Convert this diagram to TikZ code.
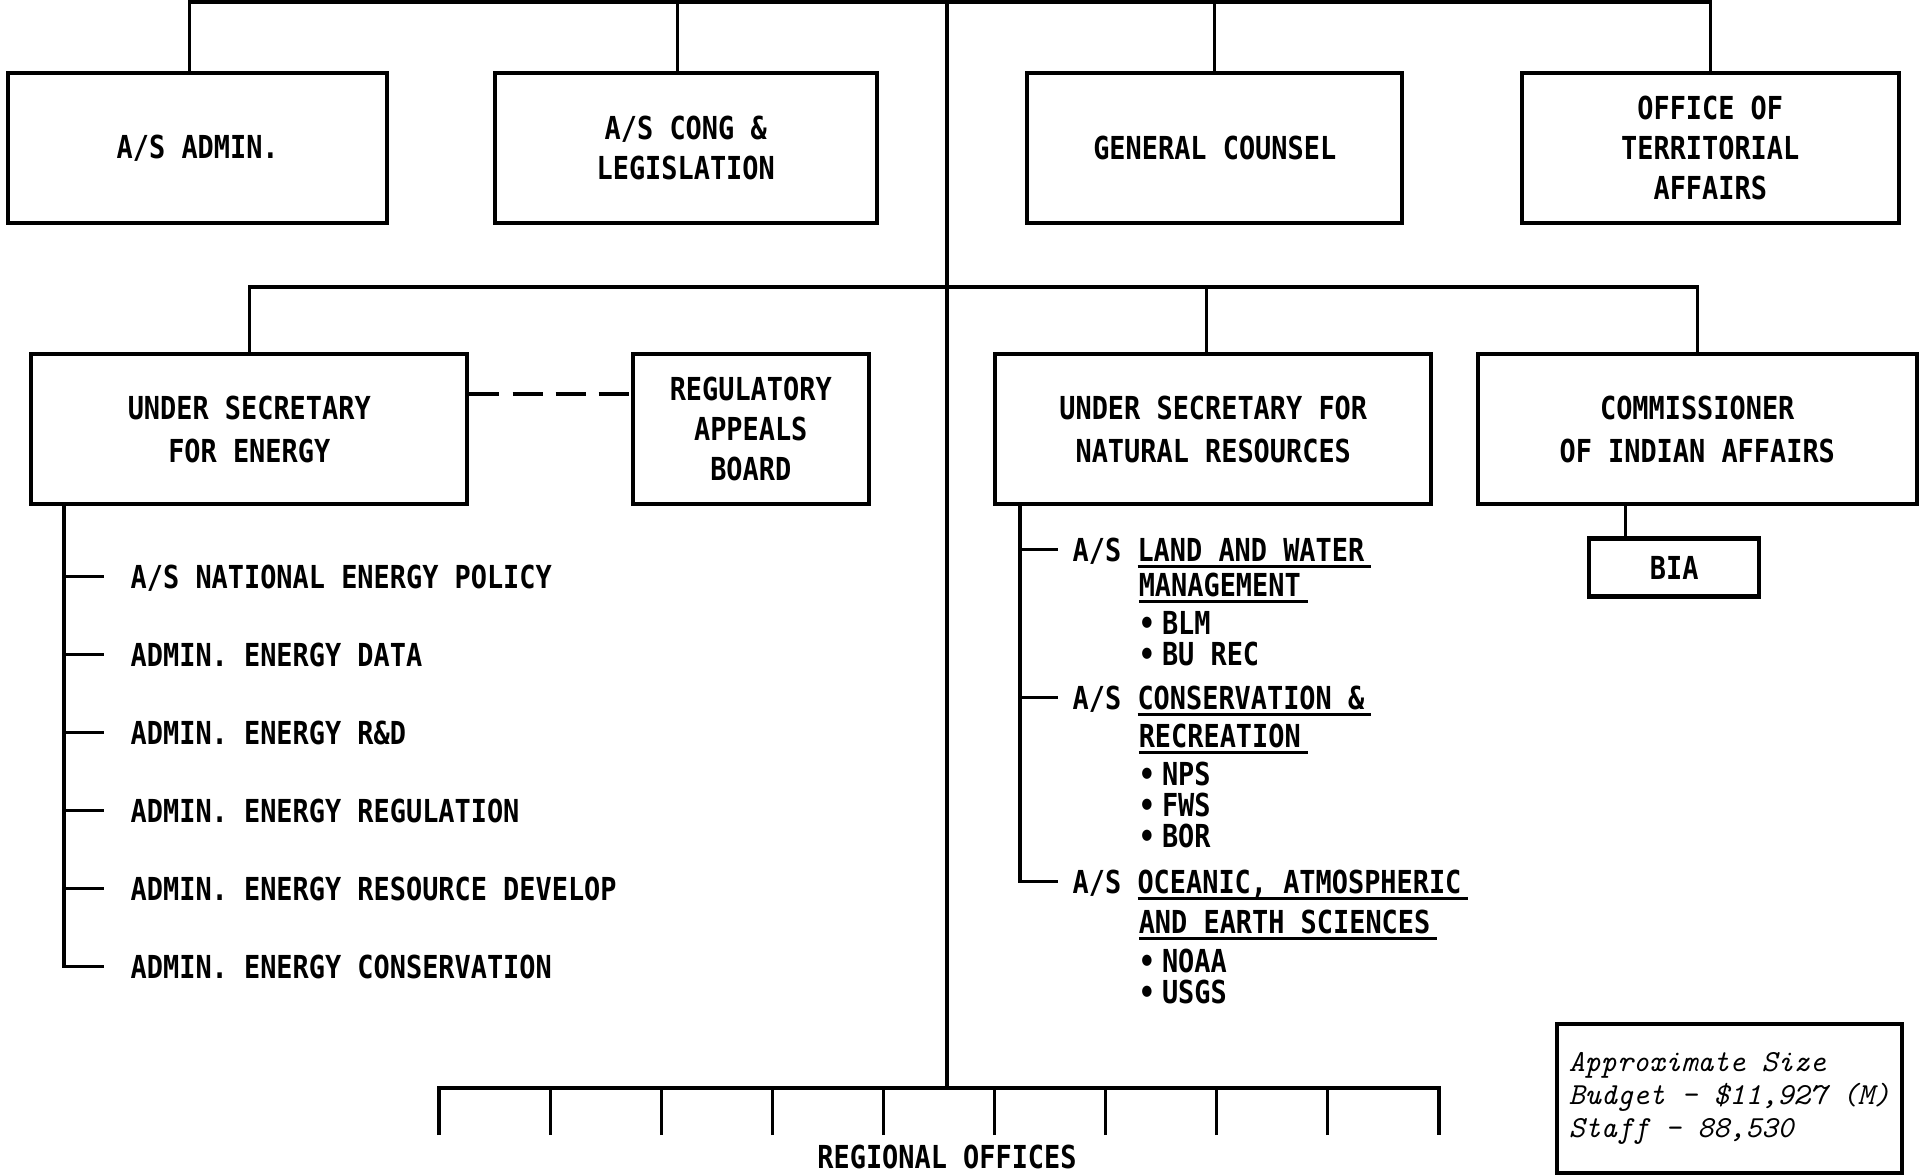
\documentclass[tikz,border=0pt]{standalone}
\usepackage{fontspec}
\newfontfamily\typefont{DejaVu Sans Mono Bold}[FakeStretch=0.85]
\usetikzlibrary{
  positioning,
  calc
}
\newsavebox{\undlbox}
\newcommand{\undl}[1]{\sbox{\undlbox}{#1}\rlap{\rule[-1.8pt]{\dimexpr\wd\undlbox+2pt\relax}{0.8pt}}\usebox{\undlbox}}

\begin{document}
\begin{tikzpicture}[
    x=0.01cm, y=-0.01cm,
    font=\typefont\fontsize{9}{11.3}\selectfont,
    office/.style={
      draw=black,
      line width=1.2pt,
      align=center,
      minimum height=1.5cm
    },
    link/.style={
      draw=black,
      line width=0.9pt
    },
    unit/.style={
      anchor=west,
      inner xsep=0.26cm,
      inner ysep=0pt,
      text height=7pt,
      text depth=0pt
    },
    subunit/.style={
      unit,
      inner xsep=0.14cm
    },
    sizebox/.style={
      draw=black,
      line width=1.2pt,
      align=left,
      font=\ttfamily\itshape\fontsize{8.7}{9.4}\selectfont
    }
  ]
  \newcommand{\enSep}{0.52cm}
  \newcommand{\titleSep}{0.09cm}
  \newcommand{\listSep}{0.115cm}
  \newcommand{\bulletSep}{0.05cm}
  \newcommand{\indentSep}{0.66cm}

  \useasboundingbox (0,0) rectangle (1924,1175);

  % Staff offices
  \node[office, minimum width=3.79cm, minimum height=1.50cm, anchor=north west] (asadmin) at (6,71) {A/S ADMIN.};
  \node[office, minimum width=3.82cm, minimum height=1.50cm, right=1.03cm of asadmin] (congleg) {A/S CONG \&\\LEGISLATION};
  \node[office, minimum width=3.75cm, minimum height=1.50cm, right=1.46cm of congleg] (counsel) {GENERAL COUNSEL};
  \node[office, minimum width=3.77cm, minimum height=1.50cm, right=1.15cm of counsel] (territorial) {OFFICE OF\\TERRITORIAL\\AFFAIRS};

  % Under secretaries
  \node[office, minimum width=4.36cm, anchor=north west] (usenergy) at (29,352) {UNDER SECRETARY\\[1pt]FOR ENERGY};
  \node[office, minimum width=2.36cm, right=1.61cm of usenergy] (appeals) {REGULATORY\\APPEALS\\BOARD};
  \node[office, minimum width=4.36cm, anchor=north west] (usnr) at (993,352) {UNDER SECRETARY FOR\\[1pt]NATURAL RESOURCES};
  \node[office, minimum width=4.39cm, right=0.42cm of usnr] (indian) {COMMISSIONER\\[1pt]OF INDIAN AFFAIRS};
  \node[office, minimum width=1.70cm, minimum height=0.58cm, below=0.30cm of indian, xshift=-0.23cm] (bia) {BIA};

  % Lines to the Secretary
  \coordinate (secretary) at (947,2);
  \coordinate (deputy) at (947,287);
  \coordinate (regbar) at (947,1088);
  \draw[link] ([xshift=-0.08cm]asadmin.north) |- (secretary) -| (territorial.north);
  \draw[link] ([xshift=-0.08cm]congleg.north) |- (secretary);
  \draw[link] (counsel.north) |- (secretary);
  \draw[link] (secretary) -- (regbar);
  \draw[link] (usenergy.north) |- (deputy) -| (indian.north);
  \draw[link] ([xshift=-0.07cm]usnr.north) |- (deputy);
  \draw[link, dash pattern=on 0.3cm off 0.13cm] ($(usenergy.north east)+(0,42)$) -- ($(appeals.north west)+(0,42)$);
  \coordinate (biatop) at ($(bia.north west)!0.22!(bia.north east)$);
  \draw[link] (biatop) -- (biatop |- indian.south);

  % Energy
  \coordinate (espine) at ($(usenergy.south west)+(35,0)$);
  \node[unit, below right=0.70cm and 0.4cm of espine, anchor=west] (policy) {A/S NATIONAL ENERGY POLICY};
  \node[unit, below=\enSep of policy.south west, anchor=north west] (edata) {ADMIN. ENERGY DATA};
  \node[unit, below=\enSep of edata.south west, anchor=north west] (erd) {ADMIN. ENERGY R\&D};
  \node[unit, below=\enSep of erd.south west, anchor=north west] (ereg) {ADMIN. ENERGY REGULATION};
  \node[unit, below=\enSep of ereg.south west, anchor=north west] (edev) {ADMIN. ENERGY RESOURCE DEVELOP};
  \node[unit, below=\enSep of edev.south west, anchor=north west] (econs) {ADMIN. ENERGY CONSERVATION};
  \draw[link] (espine) |- (econs.west);
  \foreach \u in {policy,edata,erd,ereg,edev}
    \draw[link] (espine |- \u.west) -- (\u.west);

  % Natural resources
  \coordinate (nrspine) at ($(usnr.south west)+(27,0)$);
  \node[subunit, below right=0.43cm and 0.38cm of nrspine, anchor=west] (landwater) {A/S \undl{LAND AND WATER}};
  \node[subunit, below right=\titleSep and \indentSep of landwater.south west] (landwater2) {\undl{MANAGEMENT}};
  \node[subunit, below=\listSep of landwater2.south west, anchor=north west] (blm) {\textbullet\kern2pt BLM};
  \node[subunit, below=\bulletSep of blm.south west, anchor=north west] (burec) {\textbullet\kern2pt BU REC};

  \node[subunit, below right=1.91cm and 0.38cm of nrspine, anchor=west] (recreation) {A/S \undl{CONSERVATION \&}};
  \node[subunit, below right=0.12cm and \indentSep of recreation.south west] (recreation2) {\undl{RECREATION}};
  \node[subunit, below=\listSep of recreation2.south west, anchor=north west] (nps) {\textbullet\kern2pt NPS};
  \node[subunit, below=\bulletSep of nps.south west, anchor=north west] (fws) {\textbullet\kern2pt FWS};
  \node[subunit, below=\bulletSep of fws.south west, anchor=north west] (bor) {\textbullet\kern2pt BOR};

  \node[subunit, below right=3.75cm and 0.38cm of nrspine, anchor=west] (oceanic) {A/S \undl{OCEANIC, ATMOSPHERIC}};
  \node[subunit, below right=0.14cm and \indentSep of oceanic.south west] (oceanic2) {\undl{AND EARTH SCIENCES}};
  \node[subunit, below=0.13cm of oceanic2.south west, anchor=north west] (noaa) {\textbullet\kern2pt NOAA};
  \node[subunit, below=\bulletSep of noaa.south west, anchor=north west] (usgs) {\textbullet\kern2pt USGS};
  \draw[link] (nrspine) |- (oceanic.west);
  \foreach \u in {landwater,recreation}
    \draw[link] (nrspine |- \u.west) -- (\u.west);

  % Regional offices
  \foreach \i in {0,...,9}
    \coordinate (office\i) at (439+111.1*\i,1135);
  \draw[link] (office0) |- (regbar) -| (office9);
  \foreach \i in {1,...,8}
    \draw[link] (office\i) -- (office\i |- regbar);
  \node[below=0.55cm of regbar, inner ysep=0pt, text height=7pt, text depth=0pt] (regional) {REGIONAL OFFICES};

  % Size
  \node[sizebox, minimum width=3.42cm, minimum height=1.49cm, anchor=north west] (size) at (1555,1022) {Approximate Size\\Budget - \$11,927 (M)\\Staff - 88,530};
\end{tikzpicture}
\end{document}
